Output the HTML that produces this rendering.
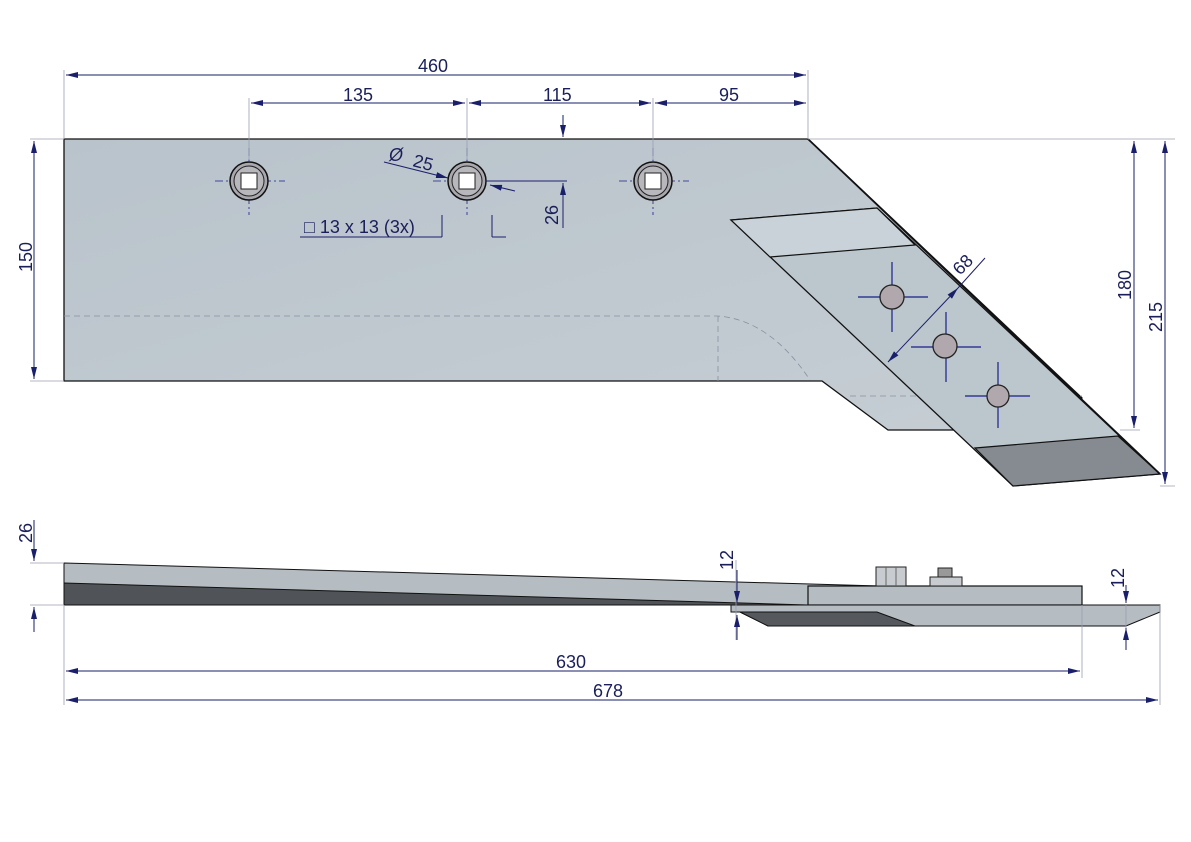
<!DOCTYPE html>
<html><head><style>body{margin:0;background:#fff}svg{display:block}text{font-family:"Liberation Sans",sans-serif;fill:#1a1f5a;font-size:18px}</style></head><body>
<svg width="1191" height="842" viewBox="0 0 1191 842" xmlns="http://www.w3.org/2000/svg">
<defs>
<marker id="a" viewBox="0 0 12 6" refX="12" refY="3" markerWidth="12" markerHeight="6" markerUnits="userSpaceOnUse" orient="auto-start-reverse"><path d="M0,0L12,3L0,6z" fill="#1a1f6a"/></marker>
<linearGradient id="g" x1="0" y1="0" x2="1" y2="1"><stop offset="0" stop-color="#b9c3cb"/><stop offset="1" stop-color="#c6ced4"/></linearGradient>
</defs>
<!-- top view body -->
<path d="M64,139H808L1082,398L1060,430H888L822,381H64Z" fill="url(#g)" stroke="#111" stroke-width="1.3"/>
<path d="M64,316H718Q770,320 810,380M718,316V381M850,396H1082M980,448Q1030,420 1075,398" stroke="#8890a0" stroke-width="0.8" stroke-dasharray="6,4" fill="none"/>
<!-- share -->
<path d="M731,220L877,208L1160,474L1013,486Z" fill="#bcc6cd" stroke="#111" stroke-width="1.3"/>
<path d="M731,220L877,208L915,245L770,257Z" fill="#c9d2d8" stroke="#111" stroke-width="1.2"/>
<path d="M975,448L1118,436L1160,474L1013,486Z" fill="#858b90" stroke="#111" stroke-width="1.2"/>
<path d="M808,139L1160,474" stroke="#111" stroke-width="1.8"/>
<g stroke="#1a1f8a" stroke-width="1.2"><path d="M858,297H928M892,262V332M911,347H981M946,312V382M965,396H1030M998,362V428"/></g>
<g fill="#b0a8ac" stroke="#222" stroke-width="1.3"><circle cx="892" cy="297" r="12"/><circle cx="945" cy="346" r="12"/><circle cx="998" cy="396" r="11"/></g>
<!-- holes -->
<g stroke="#1a1f8a" stroke-width="0.8" stroke-dasharray="8,3,2,3"><path d="M215,181H285M249,148V215M433,181H503M467,148V215M619,181H689M653,148V215"/></g>
<g><circle cx="249" cy="181" r="19" fill="#a8a8ae" stroke="#111" stroke-width="1.5"/><circle cx="249" cy="181" r="15" fill="#b7b7bc" stroke="#222"/><rect x="241" y="173" width="16" height="16" fill="#fff" stroke="#222"/>
<circle cx="467" cy="181" r="19" fill="#a8a8ae" stroke="#111" stroke-width="1.5"/><circle cx="467" cy="181" r="15" fill="#b7b7bc" stroke="#222"/><rect x="459" y="173" width="16" height="16" fill="#fff" stroke="#222"/>
<circle cx="653" cy="181" r="19" fill="#a8a8ae" stroke="#111" stroke-width="1.5"/><circle cx="653" cy="181" r="15" fill="#b7b7bc" stroke="#222"/><rect x="645" y="173" width="16" height="16" fill="#fff" stroke="#222"/></g>
<!-- side view -->
<path d="M64,563L880,586H808V605H64Z" fill="#b5bcc2" stroke="#111" stroke-width="1"/>
<path d="M64,583L808,605H64Z" fill="#505458" stroke="#111" stroke-width="1"/>
<rect x="808" y="586" width="274" height="19" fill="#b5bcc2" stroke="#111" stroke-width="1.2"/>
<path d="M731,605H1160V612L1126,626H768L740,612H731Z" fill="#b5bcc2" stroke="#111" stroke-width="1"/>
<path d="M740,612H877L915,626H768Z" fill="#55595d" stroke="#111" stroke-width="1"/>
<rect x="876" y="567" width="30" height="19" fill="#c8ccd0" stroke="#222"/><path d="M886,567V586M896,567V586" stroke="#666"/>
<rect x="930" y="577" width="32" height="9" fill="#c8ccd0" stroke="#222"/><rect x="938" y="568" width="14" height="9" fill="#999" stroke="#222"/>
<!-- extension lines -->
<g stroke="#9aa0b0" stroke-width="0.8" fill="none">
<path d="M64,139V70M808,139V70M249,160V98M467,160V98M653,160V98M64,381H30M64,139H30M808,139H1175M1120,430H1140M1160,486H1175M64,563H30M64,605H30M64,605V705M1082,605V678M1160,605V705M736,560V640M1126,605V650"/>
</g>
<!-- dimension lines -->
<g stroke="#1a1f6a" stroke-width="1" fill="none">
<path d="M66,75H806" marker-start="url(#a)" marker-end="url(#a)"/>
<path d="M251,103H465" marker-start="url(#a)" marker-end="url(#a)"/>
<path d="M469,103H651" marker-start="url(#a)" marker-end="url(#a)"/>
<path d="M655,103H806" marker-start="url(#a)" marker-end="url(#a)"/>
<path d="M34,141V379" marker-start="url(#a)" marker-end="url(#a)"/>
<path d="M1134,141V428" marker-start="url(#a)" marker-end="url(#a)"/>
<path d="M1165,141V484" marker-start="url(#a)" marker-end="url(#a)"/>
<path d="M66,671H1080" marker-start="url(#a)" marker-end="url(#a)"/>
<path d="M66,700H1158" marker-start="url(#a)" marker-end="url(#a)"/>
<path d="M34,520V561" marker-end="url(#a)"/>
<path d="M34,632V607" marker-end="url(#a)"/>
<path d="M563,115V137" marker-end="url(#a)"/><path d="M563,228V183" marker-end="url(#a)"/>
<path d="M737,570V603" marker-end="url(#a)"/><path d="M737,640V615" marker-end="url(#a)"/>
<path d="M1126,585V603" marker-end="url(#a)"/><path d="M1126,650V628" marker-end="url(#a)"/>
<path d="M486,181H567"/>
<path d="M300,237H442M442,237V215M492,237V215M492,237H506"/>
<path d="M384,162L448,178" marker-end="url(#a)"/><path d="M515,191L490,185" marker-end="url(#a)"/>
<path d="M888,362L958,288" marker-start="url(#a)" marker-end="url(#a)"/><path d="M958,288L985,258"/>
</g>
<!-- labels -->
<text x="418" y="72">460</text><text x="343" y="101">135</text><text x="543" y="101">115</text><text x="719" y="101">95</text>
<text x="389" y="161" font-style="italic" font-size="19">Ø</text><text x="412" y="166" transform="rotate(15 412 166)">25</text>
<text x="304" y="233">□  13  x 13 (3x)</text>
<text x="558" y="225" transform="rotate(-90 558 225)">26</text>
<text x="32" y="272" transform="rotate(-90 32 272)">150</text>
<text x="1131" y="300" transform="rotate(-90 1131 300)">180</text>
<text x="1162" y="332" transform="rotate(-90 1162 332)">215</text>
<text x="960" y="276" transform="rotate(-45 960 276)">68</text>
<text x="32" y="543" transform="rotate(-90 32 543)">26</text>
<text x="733" y="570" transform="rotate(-90 733 570)">12</text>
<text x="1124" y="588" transform="rotate(-90 1124 588)">12</text>
<text x="556" y="668">630</text><text x="593" y="697">678</text>
</svg></body></html>
